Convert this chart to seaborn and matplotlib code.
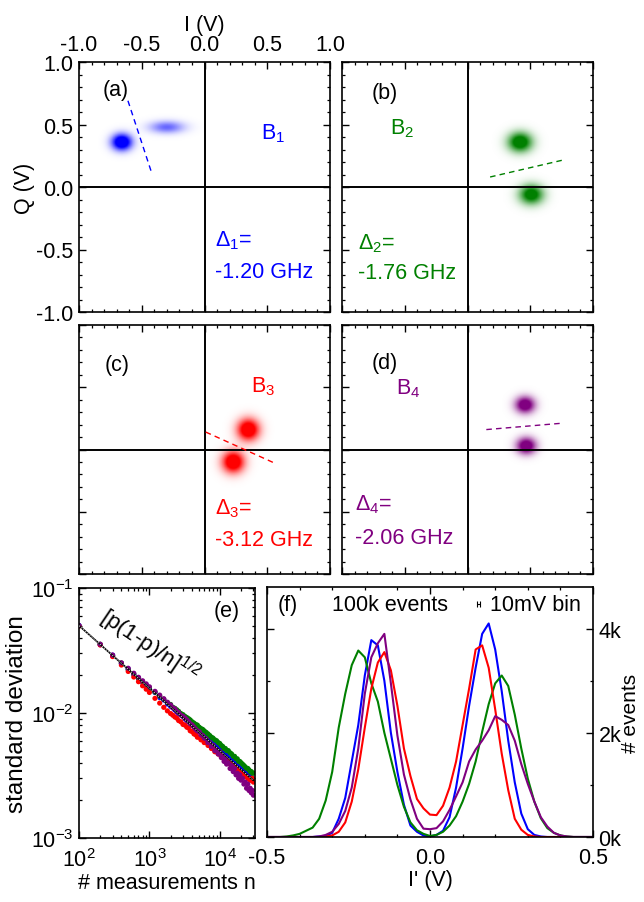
import numpy as np
import pandas as pd
import matplotlib
matplotlib.use("Agg")
import matplotlib.pyplot as plt
from matplotlib.colors import LinearSegmentedColormap
from matplotlib.ticker import MultipleLocator, FormatStrFormatter, LogLocator, NullFormatter
import seaborn as sns

# --- data -------------------------------------------------------------------
set_names = ["B1", "B2", "B3", "B4"]
set_colors = ["#0000ff", "#008000", "#ff0000", "#800080"]
panel_tags = ["(a)", "(b)", "(c)", "(d)"]
detunings = ["-1.20 GHz", "-1.76 GHz", "-3.12 GHz", "-2.06 GHz"]

# two readout blobs per panel in the IQ plane (V)
blob_i = [[-0.66, -0.30], [0.42, 0.51], [0.35, 0.23], [0.46, 0.47]]
blob_q = [[0.36, 0.48], [0.36, -0.06], [0.16, -0.10], [0.36, 0.03]]
blob_si = [[0.055, 0.095], [0.066, 0.066], [0.060, 0.060], [0.054, 0.054]]
blob_sq = [[0.045, 0.034], [0.054, 0.054], [0.060, 0.060], [0.046, 0.046]]
blob_amp = [[1.5, 0.6], [1.35, 1.25], [1.45, 1.45], [1.35, 1.35]]

# discrimination threshold, end points
thr_i = [[-0.61, -0.42], [0.18, 0.78], [0.01, 0.56], [0.15, 0.74]]
thr_q = [[0.69, 0.11], [0.08, 0.22], [0.14, -0.11], [0.16, 0.21]]

# (e) standard deviation vs number of measurements
meas_n = [100, 200, 300, 400, 500, 600, 700, 800, 900, 1000, 1200, 1400, 1600, 1800,
          2000, 2300, 2600, 3000, 3400, 3800, 4300, 4800, 5400, 6000, 6800, 7600, 8500,
          9500, 10500, 11500, 12500, 14000, 15500, 17000, 18500, 20000, 22000, 24000,
          26000, 28000, 30000,
          2150, 2450, 2800, 3200, 3600, 4050, 4550, 5100, 5700, 6400, 7200, 8000, 9000,
          10000, 11000, 12000, 13200, 14700, 16200, 17700, 19200, 21000, 23000, 25000,
          27000, 29000]
sd_b1 = [0.0502, 0.0352, 0.0290, 0.0249, 0.0225, 0.0203, 0.0191, 0.0176, 0.0168, 0.0158,
         0.0146, 0.0133, 0.0127, 0.0118, 0.0113, 0.0106, 0.0099, 0.0094, 0.0087, 0.0083,
         0.0078, 0.0072, 0.0069, 0.0065, 0.0062, 0.0058, 0.0055, 0.0052, 0.0050, 0.0047,
         0.0046, 0.0043, 0.0041, 0.0039, 0.0037, 0.0036, 0.0034, 0.0033, 0.0031, 0.0030, 0.0029,
         0.0110, 0.0102, 0.0097, 0.0090, 0.0086, 0.0080, 0.0077, 0.0071, 0.0068, 0.0064,
         0.0060, 0.0057, 0.0054, 0.0051, 0.0049, 0.0047, 0.0044, 0.0042, 0.0040, 0.0038,
         0.0037, 0.0035, 0.0034, 0.0032, 0.0031, 0.0030]
sd_b2 = [0.0498, 0.0355, 0.0288, 0.0251, 0.0222, 0.0205, 0.0188, 0.0178, 0.0165, 0.0160,
         0.0147, 0.0137, 0.0129, 0.0121, 0.0117, 0.0109, 0.0103, 0.0097, 0.0092, 0.0088,
         0.0083, 0.0080, 0.0075, 0.0072, 0.0068, 0.0064, 0.0061, 0.0058, 0.0055, 0.0052,
         0.0050, 0.0048, 0.0045, 0.0043, 0.0041, 0.0040, 0.0038, 0.0036, 0.0035, 0.0034, 0.0033,
         0.0111, 0.0106, 0.0099, 0.0094, 0.0090, 0.0085, 0.0081, 0.0077, 0.0074, 0.0070,
         0.0066, 0.0063, 0.0060, 0.0057, 0.0054, 0.0052, 0.0050, 0.0047, 0.0045, 0.0043,
         0.0041, 0.0039, 0.0037, 0.0036, 0.0034, 0.0033]
sd_b3 = [0.0495, 0.0350, 0.0283, 0.0242, 0.0215, 0.0194, 0.0178, 0.0165, 0.0155, 0.0146,
         0.0131, 0.0120, 0.0111, 0.0104, 0.0099, 0.0093, 0.0087, 0.0081, 0.0077, 0.0072,
         0.0068, 0.0064, 0.0061, 0.0058, 0.0055, 0.0052, 0.0049, 0.0047, 0.0045, 0.0043,
         0.0041, 0.0039, 0.0037, 0.0036, 0.0034, 0.0033, 0.0032, 0.0031, 0.0030, 0.0029, 0.0028,
         0.0096, 0.0091, 0.0085, 0.0080, 0.0076, 0.0071, 0.0067, 0.0064, 0.0061, 0.0058,
         0.0055, 0.0052, 0.0049, 0.0047, 0.0045, 0.0043, 0.0041, 0.0039, 0.0037, 0.0035,
         0.0034, 0.0033, 0.0031, 0.0030, 0.0029, 0.0030]
sd_b4 = [0.0500, 0.0355, 0.0291, 0.0252, 0.0228, 0.0208, 0.0193, 0.0181, 0.0171, 0.0162,
         0.0149, 0.0139, 0.0130, 0.0122, 0.0116, 0.0108, 0.0101, 0.0094, 0.0088, 0.0082,
         0.0077, 0.0072, 0.0067, 0.0063, 0.0058, 0.0054, 0.0050, 0.0047, 0.0044, 0.0041,
         0.0039, 0.0036, 0.0034, 0.0032, 0.0030, 0.0029, 0.0027, 0.0025, 0.0024, 0.0023, 0.0022,
         0.0110, 0.0103, 0.0096, 0.0091, 0.0085, 0.0080, 0.0074, 0.0071, 0.0066, 0.0062,
         0.0058, 0.0055, 0.0051, 0.0049, 0.0045, 0.0043, 0.0040, 0.0038, 0.0036, 0.0033,
         0.0032, 0.0030, 0.0028, 0.0027, 0.0025, 0.0024]
theory_n = [100, 30000]
theory_sd = [0.0500, 0.00289]

# (f) histograms of rotated I' (10 mV bins, counts in k events)
iprime = np.round(np.linspace(-0.5, 0.5, 51), 2)
counts_b1 = [0, 0, 0, 0, 0, 0, 0, 0, 0.01, 0.02, 0.08, 0.35, 0.75, 1.45, 2.15, 3.10, 3.78,
             3.68, 3.00, 2.00, 1.25, 0.62, 0.22, 0.10, 0.03, 0.01, 0.04, 0.12, 0.38, 0.95,
             1.70, 2.52, 3.25, 3.90, 4.10, 3.60, 2.80, 1.85, 1.05, 0.45, 0.15, 0.04, 0.01,
             0, 0, 0, 0, 0, 0, 0, 0]
counts_b2 = [0, 0, 0, 0.01, 0.03, 0.06, 0.12, 0.18, 0.35, 0.70, 1.25, 2.10, 2.75, 3.30,
             3.58, 3.45, 2.95, 2.60, 2.00, 1.50, 1.00, 0.58, 0.28, 0.13, 0.06, 0.02, 0.04,
             0.10, 0.22, 0.40, 0.68, 1.02, 1.45, 2.02, 2.55, 2.95, 3.10, 2.90, 2.35, 1.70,
             1.12, 0.68, 0.36, 0.17, 0.08, 0.03, 0.01, 0, 0, 0, 0]
counts_b3 = [0, 0, 0, 0, 0, 0, 0, 0, 0, 0.01, 0.03, 0.10, 0.28, 0.68, 1.30, 2.10, 2.85,
             3.35, 3.55, 3.20, 2.52, 1.70, 1.17, 0.73, 0.55, 0.43, 0.42, 0.60, 0.95, 1.45,
             2.15, 2.85, 3.60, 3.68, 3.25, 2.45, 1.60, 0.90, 0.35, 0.14, 0.04, 0.01, 0, 0,
             0, 0, 0, 0, 0, 0, 0]
counts_b4 = [0, 0, 0, 0, 0, 0, 0, 0, 0.01, 0.04, 0.10, 0.25, 0.50, 0.95, 1.70, 2.75, 3.45,
             3.72, 3.90, 2.95, 1.95, 1.20, 0.72, 0.35, 0.16, 0.15, 0.17, 0.30, 0.52, 0.78,
             1.05, 1.45, 1.68, 1.85, 2.05, 2.32, 2.25, 2.15, 1.85, 1.40, 1.02, 0.68, 0.38,
             0.20, 0.08, 0.03, 0.01, 0, 0, 0, 0]
count_ticks = [0, 2, 4]
count_labels = ["0k", "2k", "4k"]

# --- style ------------------------------------------------------------------
FS = 15.5
sns.set_style("ticks")
plt.rcParams.update({
    "font.family": ["Liberation Sans", "DejaVu Sans"],
    "font.size": FS,
    "axes.unicode_minus": False,
    "mathtext.fontset": "custom",
    "mathtext.rm": "Liberation Sans",
    "mathtext.it": "Liberation Sans:italic",
    "mathtext.default": "regular",
    "text.color": "black",
    "axes.labelcolor": "black",
    "axes.edgecolor": "black",
    "axes.linewidth": 1.2,
    "xtick.color": "black",
    "ytick.color": "black",
    "xtick.direction": "in",
    "ytick.direction": "in",
    "xtick.major.size": 5,
    "ytick.major.size": 5,
    "xtick.minor.size": 2.5,
    "ytick.minor.size": 2.5,
    "xtick.major.width": 1.0,
    "ytick.major.width": 1.0,
    "xtick.minor.width": 0.9,
    "ytick.minor.width": 0.9,
    "xtick.major.pad": 5,
    "ytick.major.pad": 4,
    "xtick.labelsize": FS,
    "ytick.labelsize": FS,
})

fig = plt.figure(figsize=(6.44, 9.03), dpi=100)
W, H = 644, 903


def px_axes(x0, y0, x1, y1):
    return fig.add_axes([x0 / W, 1 - y1 / H, (x1 - x0) / W, (y1 - y0) / H])


iq_boxes = [(79, 63, 330, 313), (342, 63, 593, 313), (79, 326, 330, 575), (342, 326, 593, 575)]
# where the panel texts sit (data coords): tag centre, B label, detuning lines
tag_pos = [(-0.71, 0.78), (-0.66, 0.76), (-0.70, 0.68), (-0.66, 0.70)]
b_pos = [(0.45, 0.39), (-0.62, 0.43), (0.37, 0.47), (-0.57, 0.45)]
delta_pos = [(0.08, -0.47), (-0.87, -0.49), (0.08, -0.51), (-0.90, -0.48)]
ghz_pos = [(0.08, -0.72), (-0.87, -0.73), (0.08, -0.77), (-0.90, -0.75)]

grid = np.linspace(-1, 1, 401)
gi, gq = np.meshgrid(grid, grid)

for k in range(4):
    ax = px_axes(*iq_boxes[k])
    dens = np.zeros_like(gi)
    for j in range(2):
        dens += blob_amp[k][j] * np.exp(-0.5 * (((gi - blob_i[k][j]) / blob_si[k][j]) ** 2
                                                 + ((gq - blob_q[k][j]) / blob_sq[k][j]) ** 2))
    cmap = LinearSegmentedColormap.from_list(f"c{k}", ["white", set_colors[k]])
    ax.imshow(np.clip(dens, 0, 1), extent=[-1, 1, -1, 1], origin="lower", cmap=cmap,
              vmin=0, vmax=1, interpolation="bilinear", aspect="auto", zorder=0)
    ax.axhline(0, color="black", lw=1.4, zorder=2)
    ax.axvline(0, color="black", lw=1.4, zorder=2)
    ax.plot(thr_i[k], thr_q[k], color=set_colors[k], lw=1.0, ls=(0, (4, 3)), zorder=3)

    ax.set_xlim(-1, 1)
    ax.set_ylim(-1, 1)
    for axis in (ax.xaxis, ax.yaxis):
        axis.set_major_locator(MultipleLocator(0.5))
        axis.set_minor_locator(MultipleLocator(0.1))
        axis.set_major_formatter(FormatStrFormatter("%.1f"))
    ax.tick_params(which="both", top=True, right=True, bottom=True, left=True,
                   labelbottom=False, labeltop=(k == 0), labelleft=(k == 0))
    if k == 0:
        ax.set_xlabel("I (V)", labelpad=3)
        ax.xaxis.set_label_position("top")
        ax.set_ylabel("Q (V)", labelpad=1)

    col = set_colors[k]
    ax.text(*tag_pos[k], panel_tags[k], ha="center", va="center")
    ax.text(*b_pos[k], f"B$_{k + 1}$", color=col, ha="left", va="baseline")
    ax.text(*delta_pos[k], f"Δ$_{k + 1}$=", color=col, ha="left", va="baseline")
    ax.text(*ghz_pos[k], detunings[k], color=col, ha="left", va="baseline")

# --- (e) -------------------------------------------------------------------
ax_e = px_axes(79, 589, 255, 839)
df_e = pd.DataFrame({
    "n": meas_n * 4,
    "sd": sd_b1 + sd_b2 + sd_b3 + sd_b4,
    "set": sum([[name] * len(meas_n) for name in set_names], []),
})
sns.scatterplot(data=df_e, x="n", y="sd", hue="set", palette=set_colors, s=14,
                linewidth=0, legend=False, ax=ax_e, zorder=2)
ax_e.plot(theory_n, theory_sd, color="black", lw=1.2, zorder=3)
ax_e.plot(theory_n, theory_sd, color="white", lw=0.5, ls=(0, (2, 2)), zorder=4)
ax_e.set_xscale("log")
ax_e.set_yscale("log")
ax_e.set_xlim(100, 10 ** 4.5)
ax_e.set_ylim(1e-3, 1e-1)
ax_e.xaxis.set_major_locator(LogLocator(base=10, numticks=10))
ax_e.xaxis.set_minor_locator(LogLocator(base=10, subs=np.arange(2, 10), numticks=10))
ax_e.xaxis.set_minor_formatter(NullFormatter())
ax_e.yaxis.set_minor_formatter(NullFormatter())
ax_e.tick_params(which="both", top=True, right=True)
ax_e.tick_params(axis="x", which="major", pad=7)
ax_e.set_xlabel("# measurements n", labelpad=1)
ax_e.set_ylabel("standard deviation", fontsize=17.5, labelpad=2)
ax_e.text(0.84, 0.91, "(e)", transform=ax_e.transAxes, ha="center", va="center")
ax_e.text(0.40, 0.77, "[p(1-p)/n]$^{1/2}$", transform=ax_e.transAxes, ha="center",
          va="center", rotation=-34, rotation_mode="anchor", fontsize=16)

# --- (f) -------------------------------------------------------------------
ax_f = px_axes(267, 588, 593, 838)
df_f = pd.DataFrame({
    "I": np.tile(iprime, 4),
    "count": counts_b1 + counts_b2 + counts_b3 + counts_b4,
    "set": sum([[name] * len(iprime) for name in set_names], []),
})
sns.lineplot(data=df_f, x="I", y="count", hue="set", palette=set_colors, lw=1.5,
             estimator=None, legend=False, ax=ax_f)
ax_f.set_xlim(-0.5, 0.5)
ax_f.set_ylim(0, 4.8)
ax_f.xaxis.set_major_locator(MultipleLocator(0.5))
ax_f.xaxis.set_minor_locator(MultipleLocator(0.1))
ax_f.xaxis.set_major_formatter(FormatStrFormatter("%.1f"))
ax_f.set_yticks(count_ticks)
ax_f.set_yticklabels(count_labels)
ax_f.yaxis.set_minor_locator(MultipleLocator(1))
ax_f.tick_params(which="both", top=True, left=True, right=True, labelleft=False, labelright=True)
ax_f.tick_params(axis="x", which="major", pad=7)
ax_f.yaxis.set_label_position("right")
ax_f.set_ylabel("# events", fontsize=15, labelpad=0)
ax_f.set_xlabel("I' (V)", labelpad=1)
ax_f.text(-0.435, 4.46, "(f)", ha="center", va="center")
ax_f.text(-0.123, 4.46, "100k events", ha="center", va="center")
ax_f.errorbar([0.148], [4.47], xerr=0.005, color="black", lw=0.8, capsize=2, capthick=0.8)
ax_f.text(0.184, 4.46, "10mV bin", ha="left", va="center")

fig.savefig("out.png", dpi=100)
